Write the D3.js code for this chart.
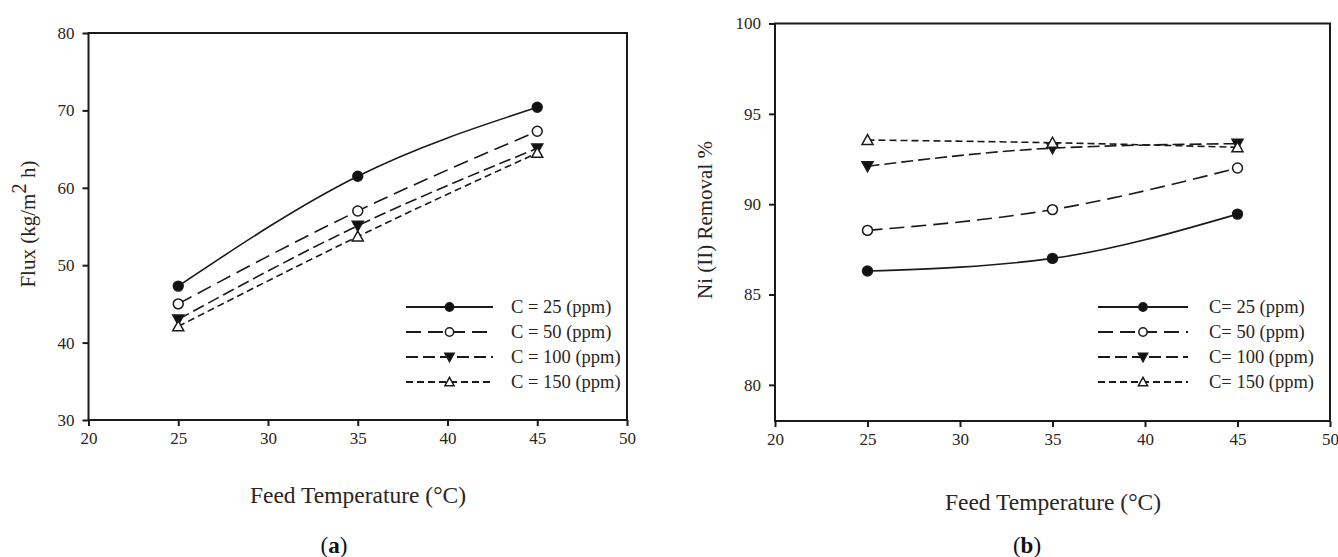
<!DOCTYPE html>
<html>
<head>
<meta charset="utf-8">
<script src="https://cdn.jsdelivr.net/npm/d3@7"></script>
<style>
  html, body { margin: 0; padding: 0; background: #fff; }
  svg { display: block; font-family: "Liberation Serif", "DejaVu Serif", serif; }
</style>
</head>
<body>
<svg id="chart" width="1338" height="557"></svg>
<script>
// Feed temperature (°C) for every series
const temperatures = [25, 35, 45];

// Series labels (feed concentration)
const concentrations = [25, 50, 100, 150];

// (a) Permeate flux, kg/m2 h
const fluxC25  = [47.3, 61.5, 70.4];
const fluxC50  = [45.0, 57.0, 67.3];
const fluxC100 = [43.0, 55.1, 65.1];
const fluxC150 = [42.1, 53.7, 64.5];

// (b) Ni(II) removal, %
const removalC25  = [86.3, 87.0, 89.45];
const removalC50  = [88.55, 89.7, 92.0];
const removalC100 = [92.1, 93.1, 93.35];
const removalC150 = [93.55, 93.4, 93.15];

// Axis ticks
const xTicks = [20, 25, 30, 35, 40, 45, 50];
const fluxTicks = [30, 40, 50, 60, 70, 80];
const removalTicks = [80, 85, 90, 95, 100];

// Line / marker styling per concentration
const styles = [
  { dash: null,   marker: "circle",   fill: "#111" },
  { dash: "15,7", marker: "circle",   fill: "#fff" },
  { dash: "12,5", marker: "triDown",  fill: "#111" },
  { dash: "7,4",  marker: "triUp",    fill: "#fff" }
];

const svg = d3.select("#chart");
const ink = "#1a1a1a";
const textInk = "#2a2520";

function markerPath(kind, s) {
  if (kind === "triDown") return `M${-s},${-0.8 * s}L${s},${-0.8 * s}L0,${s}Z`;
  if (kind === "triUp") return `M${-s},${0.8 * s}L${s},${0.8 * s}L0,${-s}Z`;
  return null;
}

function drawMarker(g, kind, fill, x, y, s) {
  if (kind === "circle") {
    g.append("circle").attr("cx", x).attr("cy", y).attr("r", s * 0.9)
      .attr("fill", fill).attr("stroke", ink).attr("stroke-width", 1.5);
  } else {
    g.append("path").attr("d", markerPath(kind, s))
      .attr("transform", `translate(${x},${y})`)
      .attr("fill", fill).attr("stroke", ink).attr("stroke-width", 1.5);
  }
}

function drawPanel(p) {
  const g = svg.append("g");
  const x = d3.scaleLinear().domain([20, 50]).range([p.left, p.right]);
  const y = d3.scaleLinear().domain(p.yDomain).range([p.bottom, p.top]);

  // frame
  g.append("rect")
    .attr("x", p.left).attr("y", p.top)
    .attr("width", p.right - p.left).attr("height", p.bottom - p.top)
    .attr("fill", "none").attr("stroke", ink).attr("stroke-width", 2);

  // axes
  const xAxis = g.append("g").attr("transform", `translate(0,${p.bottom})`)
    .call(d3.axisBottom(x).tickValues(xTicks).tickSize(6).tickPadding(6).tickFormat(d3.format("d")));
  const yAxis = g.append("g").attr("transform", `translate(${p.left},0)`)
    .call(d3.axisLeft(y).tickValues(p.yTicks).tickSize(6).tickPadding(8).tickFormat(d3.format("d")));
  [xAxis, yAxis].forEach(a => {
    a.select(".domain").remove();
    a.selectAll(".tick line").attr("stroke", ink).attr("stroke-width", 2);
    a.selectAll(".tick text").attr("fill", textInk)
      .style("font-family", "Liberation Serif, serif").style("font-size", "17px");
  });

  // series
  const line = d3.line().curve(d3.curveMonotoneX)
    .x((d, i) => x(temperatures[i])).y(d => y(d));
  p.series.forEach((vals, k) => {
    const st = styles[k];
    g.append("path").datum(vals)
      .attr("d", line).attr("fill", "none")
      .attr("stroke", ink).attr("stroke-width", 1.6)
      .attr("stroke-dasharray", st.dash);
  });
  p.series.forEach((vals, k) => {
    const st = styles[k];
    vals.forEach((v, i) => drawMarker(g, st.marker, st.fill, x(temperatures[i]), y(v), 5.5));
  });

  // legend
  concentrations.forEach((c, k) => {
    const st = styles[k];
    const ly = p.legend.y0 + k * p.legend.dy;
    g.append("line")
      .attr("x1", p.legend.x1).attr("x2", p.legend.x2)
      .attr("y1", ly).attr("y2", ly)
      .attr("stroke", ink).attr("stroke-width", 2.2)
      .attr("stroke-dasharray", st.dash);
    drawMarker(g, st.marker, st.fill, (p.legend.x1 + p.legend.x2) / 2, ly, 4.6);
    g.append("text")
      .attr("x", p.legend.tx).attr("y", ly).attr("dy", "0.35em")
      .attr("fill", textInk).style("font-size", "18.5px")
      .text(p.legend.label(c));
  });

  // x title
  g.append("text")
    .attr("x", p.xTitle.x).attr("y", p.xTitle.y)
    .attr("text-anchor", "middle").attr("fill", textInk)
    .style("font-size", "23.5px")
    .text("Feed Temperature (°C)");

  // y title
  const yt = g.append("text")
    .attr("transform", `translate(${p.yTitle.x},${p.yTitle.y}) rotate(-90)`)
    .attr("text-anchor", "middle").attr("fill", textInk)
    .style("font-size", "21px");
  p.yTitle.build(yt);

  // panel letter
  const pl = g.append("text")
    .attr("x", p.letter.x).attr("y", p.letter.y)
    .attr("text-anchor", "middle").attr("fill", "#111")
    .style("font-size", "23px");
  pl.append("tspan").text("(");
  pl.append("tspan").style("font-weight", "bold").text(p.letter.t);
  pl.append("tspan").text(")");
}

drawPanel({
  left: 88.5, right: 627, top: 33, bottom: 420,
  yDomain: [30, 80], yTicks: fluxTicks,
  series: [fluxC25, fluxC50, fluxC100, fluxC150],
  legend: { x1: 406, x2: 493, y0: 307, dy: 25, tx: 511, label: c => `C = ${c} (ppm)` },
  xTitle: { x: 358, y: 503 },
  yTitle: { x: 35, y: 224, build: t => {
    t.append("tspan").text("Flux (kg/m");
    t.append("tspan").attr("dy", "-0.45em").text("2");
    t.append("tspan").attr("dy", "0.45em").text(" h)");
  } },
  letter: { x: 334, y: 553, t: "a" }
});

drawPanel({
  left: 775, right: 1330, top: 23.5, bottom: 421,
  yDomain: [78, 100], yTicks: removalTicks,
  series: [removalC25, removalC50, removalC100, removalC150],
  legend: { x1: 1098, x2: 1188, y0: 307, dy: 25, tx: 1209, label: c => `C= ${c} (ppm)` },
  xTitle: { x: 1053, y: 510 },
  yTitle: { x: 712, y: 220, build: t => t.text("Ni (II) Removal %") },
  letter: { x: 1027, y: 553, t: "b" }
});
</script>
</body>
</html>
